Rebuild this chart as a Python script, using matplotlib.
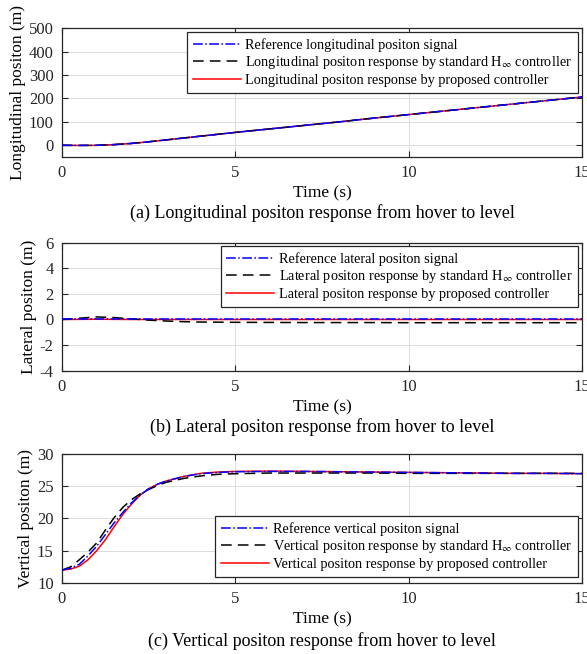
import numpy as np
import matplotlib
matplotlib.use("Agg")
import matplotlib.pyplot as plt

plt.rcParams['font.family'] = ['Liberation Serif', 'DejaVu Serif']
plt.rcParams['mathtext.fontset'] = 'stix'
plt.rcParams['axes.unicode_minus'] = False

# ---- data ----
# (a) longitudinal position
t_a = [0, 0.5, 1, 1.5, 2, 2.5, 3, 3.5, 4, 5, 6, 7, 8, 9, 10, 11, 12, 13, 14, 15]
lon_ref = [0, -0.5, 0, 3, 8, 15, 23, 31, 39, 55, 70, 85, 100, 116, 131, 146, 161, 176, 191, 206]
lon_std = [0, -0.5, 0, 3, 8, 15, 23, 31, 39, 55, 70, 85, 100, 116, 131, 146, 161, 176, 191, 206]
lon_prop = [0, -0.6, -0.2, 2.8, 7.8, 14.8, 22.8, 30.8, 39, 55, 70, 85, 100, 116, 131, 146, 161, 176, 191, 206]

# (b) lateral position
t_b = [0, 0.5, 1, 1.5, 2, 2.5, 3, 3.5, 4, 5, 6, 7, 8, 9, 10, 11, 12, 13, 14, 15]
lat_ref = [0] * 20
lat_std = [0, 0.1, 0.2, 0.15, 0.05, -0.05, -0.12, -0.17, -0.2, -0.22, -0.23, -0.24, -0.24,
           -0.24, -0.25, -0.25, -0.25, -0.25, -0.25, -0.25]
lat_prop = [0, 0.01, 0.02, 0.01, 0, 0, 0, 0, 0, 0, 0, 0, 0, 0, 0, 0, 0, 0, 0, 0]

# (c) vertical position
t_c = [0, 0.25, 0.5, 0.75, 1, 1.25, 1.5, 1.75, 2, 2.25, 2.5, 2.75, 3, 3.5, 4, 4.5, 5,
       6, 7, 8, 9, 10, 11, 12, 13, 14, 15]
ver_ref = [12.0, 12.3, 12.9, 14.2, 15.7, 17.5, 19.3, 20.9, 22.4, 23.6, 24.6, 25.3, 25.8,
           26.5, 26.95, 27.15, 27.25, 27.3, 27.3, 27.25, 27.2, 27.15, 27.1, 27.05, 27.0, 27.0, 26.95]
ver_std = [12.0, 12.5, 13.6, 14.8, 16.2, 18.2, 20.1, 21.7, 22.9, 23.8, 24.5, 25.1, 25.6,
           26.2, 26.6, 26.85, 26.95, 27.05, 27.05, 27.05, 27.05, 27.0, 27.0, 27.0, 27.0, 27.0, 27.0]
ver_prop = [12.0, 12.15, 12.6, 13.6, 15.0, 16.7, 18.7, 20.6, 22.2, 23.6, 24.6, 25.3, 25.8,
            26.5, 27.0, 27.2, 27.3, 27.35, 27.3, 27.25, 27.2, 27.15, 27.1, 27.05, 27.0, 27.0, 26.95]

panels = [
    dict(t=t_a, ref=lon_ref, std=lon_std, prop=lon_prop, ylim=(-50, 500),
         yticks=[0, 100, 200, 300, 400, 500], ylabel='Longitudinal positon (m)',
         names=['Reference longitudinal positon signal',
                r'Longitudinal positon response by standard H$_{\infty}$ controller',
                'Longitudinal positon response by proposed controller'],
         caption='(a) Longitudinal positon response from hover to level', cap_y=-0.434,
         pos=[0.1056, 0.7599, 0.8859, 0.1972], leg=('upper right', (0.9923, 0.969))),
    dict(t=t_b, ref=lat_ref, std=lat_std, prop=lat_prop, ylim=(-4, 6),
         yticks=[-4, -2, 0, 2, 4, 6], ylabel='Lateral positon (m)',
         names=['Reference lateral positon signal',
                r'Lateral positon response by standard H$_{\infty}$ controller',
                'Lateral positon response by proposed controller'],
         caption='(b) Lateral positon response from hover to level', cap_y=-0.44,
         pos=[0.1056, 0.4332, 0.8859, 0.1957], leg=('upper right', (0.9923, 0.974))),
    dict(t=t_c, ref=ver_ref, std=ver_std, prop=ver_prop, ylim=(10, 30),
         yticks=[10, 15, 20, 25, 30], ylabel='Vertical positon (m)',
         names=['Reference vertical positon signal',
                r'Vertical positon response by standard H$_{\infty}$ controller',
                'Vertical positon response by proposed controller'],
         caption='(c) Vertical positon response from hover to level', cap_y=-0.45,
         pos=[0.1056, 0.1086, 0.8859, 0.1972], leg=('lower right', (0.9923, 0.0465))),
]

fig = plt.figure(figsize=(5.87, 6.54), dpi=100)

for p in panels:
    ax = fig.add_axes(p['pos'])
    ax.plot(p['t'], p['ref'], color='blue', ls='-.', lw=1.1, zorder=4,
            label=p['names'][0])
    ax.plot(p['t'], p['std'], color='black', ls=(0, (7, 4)), lw=1.1, zorder=3,
            label=p['names'][1])
    ax.plot(p['t'], p['prop'], color='red', ls='-', lw=1.1, zorder=2,
            label=p['names'][2])
    ax.set_xlim(0, 15)
    ax.set_ylim(*p['ylim'])
    ax.set_xticks([0, 5, 10, 15])
    ax.set_yticks(p['yticks'])
    ax.grid(True, color='#dcdcdc', lw=0.7)
    ax.set_axisbelow(True)
    ax.tick_params(direction='in', top=True, right=True, labelsize=12,
                   length=4.5, width=0.8, colors='#262626', pad=6)
    for s in ax.spines.values():
        s.set_color('#262626')
        s.set_linewidth(0.9)
    ax.set_xlabel('Time (s)', fontsize=12.5, labelpad=3)
    ax.set_ylabel(p['ylabel'], fontsize=12.5, labelpad=2)
    ax.text(0.5, p['cap_y'], p['caption'], transform=ax.transAxes, ha='center',
            va='center', fontsize=13)
    leg = ax.legend(loc=p['leg'][0], bbox_to_anchor=p['leg'][1], borderaxespad=0,
                    fontsize=10.3, fancybox=False, framealpha=1, edgecolor='#262626',
                    handlelength=3.35, handletextpad=0.3, labelspacing=0.2,
                    borderpad=0.4)
    leg.get_frame().set_linewidth(0.9)

fig.savefig('out.png', dpi=100)
